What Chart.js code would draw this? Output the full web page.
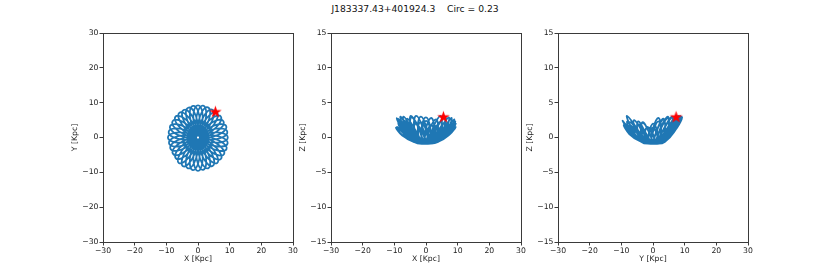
<!DOCTYPE html>
<html>
<head>
<meta charset="utf-8">
<style>
  body { margin:0; background:#fff; width:830px; height:277px; position:relative; overflow:hidden; font-family:"DejaVu Sans", sans-serif; }
  #title { position:absolute; left:0; width:830px; top:3px; text-align:center; font-size:9.2px; color:#111; white-space:pre; }
  canvas { position:absolute; top:23px; }
</style>
</head>
<body>
<div id="title">J183337.43+401924.3    Circ = 0.23</div>
<canvas id="xy" width="242" height="254" style="left:63px"></canvas>
<canvas id="xz" width="242" height="254" style="left:291px"></canvas>
<canvas id="yz" width="242" height="254" style="left:518px"></canvas>

<script src="https://cdn.jsdelivr.net/npm/chart.js/dist/chart.umd.min.js"></script>
<script>
const orbitX = [
  3.57, 7.49, 9.4, 7.49, 3.57, -0.05,
  -3.74, -7.60, -9.16, -7.14, -3.29, 0.16,
  3.80, 7.49, 8.93, 6.58, 2.91, -0.25,
  -3.74, -7.14, -7.97, -5.82, -2.44, 0.34,
  3.57, 6.58, 7.20, 4.89, 1.90, -0.42,
  -3.29, -5.82, -6.11, -3.80, -1.30, 0.49,
  2.91, 4.89, 4.60, 2.60, 0.66, -0.54,
  -2.44, -3.80, -3.21, -1.32, 0, 0.58,
  1.90, 2.60, 1.62, 0, -0.66, -0.60,
  -1.30, -1.32, 0, 1.32, 1.30, 0.60,
  0.66, 0, -1.60, -2.60, -1.90, -0.58,
  0, 1.32, 3.21, 3.80, 2.44, 0.54,
  -0.66, -2.60, -4.55, -4.89, -2.91, -0.49,
  1.30, 3.80, 6.11, 5.82, 3.29, 0.42,
  -1.90, -4.89, -7.12, -6.58, -3.57, -0.34,
  2.44, 5.82, 8.23, 7.14, 3.74, 0.25,
  -2.91, -6.58, -8.84, -7.49, -3.80, -0.16,
  3.29, 7.14, 9.36, 7.60, 3.74, 0.05,
  -3.57, -7.49, -9.5, -7.49, -3.57, 0.05,
  3.74, 7.60, 9.26, 7.14, 3.29, -0.16,
  -3.80, -7.49, -8.74, -6.58, -2.91, 0.25,
  3.74, 7.14, 8.05, 5.82, 2.44, -0.34,
  -3.57, -6.58, -7.05, -4.89, -1.90, 0.42,
  3.29, 5.82, 5.98, 3.80, 1.30, -0.49,
  -2.91, -4.89, -4.75, -2.60, -0.66, 0.54,
  2.44, 3.80, 3.15, 1.32, 0, -0.58,
  -1.90, -2.60, -1.65, 0, 0.66, 0.60,
  1.30, 1.32, 0, -1.32, -1.30, -0.60,
  -0.66, 0, 1.64, 2.60, 1.90, 0.58,
  0, -1.32, -3.11, -3.80, -2.44, -0.54,
  0.66, 2.60, 4.70, 4.89, 2.91, 0.49,
  -1.30, -3.80, -5.92, -5.82, -3.29, -0.42,
  1.90, 4.89, 7.28, 6.58, 3.57, 0.34,
  -2.44, -5.82, -8.05, -7.14, -3.74, -0.25,
  2.91, 6.58, 9.02, 7.49, 3.80, 0.16,
  -3.29, -7.14, -9.26, -7.60, -3.74, -0.05,
  3.57
];
const orbitY = [
  -1.30, -1.32, 0, 1.32, 1.30, 0.60,
  0.66, 0, -1.62, -2.60, -1.90, -0.58,
  0, 1.32, 3.25, 3.80, 2.44, 0.54,
  -0.66, -2.60, -4.60, -4.89, -2.91, -0.49,
  1.30, 3.80, 6.04, 5.82, 3.29, 0.42,
  -1.90, -4.89, -7.28, -6.58, -3.57, -0.34,
  2.44, 5.82, 7.97, 7.14, 3.74, 0.25,
  -2.91, -6.58, -8.84, -7.49, -3.80, -0.16,
  3.29, 7.14, 9.16, 7.60, 3.74, 0.05,
  -3.57, -7.49, -9.6, -7.49, -3.57, 0.05,
  3.74, 7.60, 9.06, 7.14, 3.29, -0.16,
  -3.80, -7.49, -8.84, -6.58, -2.91, 0.25,
  3.74, 7.14, 7.88, 5.82, 2.44, -0.34,
  -3.57, -6.58, -7.28, -4.89, -1.90, 0.42,
  3.29, 5.82, 5.98, 3.80, 1.30, -0.49,
  -2.91, -4.89, -4.75, -2.60, -0.66, 0.54,
  2.44, 3.80, 3.21, 1.32, 0, -0.58,
  -1.90, -2.60, -1.65, 0, 0.66, 0.60,
  1.30, 1.32, 0, -1.32, -1.30, -0.60,
  -0.66, 0, 1.64, 2.60, 1.90, 0.58,
  0, -1.32, -3.18, -3.80, -2.44, -0.54,
  0.66, 2.60, 4.65, 4.89, 2.91, 0.49,
  -1.30, -3.80, -5.92, -5.82, -3.29, -0.42,
  1.90, 4.89, 7.12, 6.58, 3.57, 0.34,
  -2.44, -5.82, -8.23, -7.14, -3.74, -0.25,
  2.91, 6.58, 8.65, 7.49, 3.80, 0.16,
  -3.29, -7.14, -9.36, -7.60, -3.74, -0.05,
  3.57, 7.49, 9.2, 7.49, 3.57, -0.05,
  -3.74, -7.60, -9.26, -7.14, -3.29, 0.16,
  3.80, 7.49, 8.55, 6.58, 2.91, -0.25,
  -3.74, -7.14, -8.14, -5.82, -2.44, 0.34,
  3.57, 6.58, 7.05, 4.89, 1.90, -0.42,
  -3.29, -5.82, -6.11, -3.80, -1.30, 0.49,
  2.91, 4.89, 4.65, 2.60, 0.66, -0.54,
  -2.44, -3.80, -3.28, -1.32, 0, 0.58,
  1.90, 2.60, 1.64, 0, -0.66, -0.60,
  -1.30
];
const orbitZ = [
  -0.6, 0.6, 2.0, 0.9, -0.55, -0.85,
  -0.65, 0.35, 1.5, 0.6, -0.6, -0.9,
  -0.55, 1.1, 2.6, 1.3, -0.45, -0.85,
  -0.6, 0.9, 2.3, 1.1, -0.4, -0.9,
  -0.35, 1.5, 2.9, 1.6, -0.3, -0.85,
  -0.4, 0.7, 1.8, 0.8, -0.45, -0.9,
  -0.4, 1.7, 3.1, 1.8, -0.55, -0.85,
  -0.55, 0.8, 2.0, 0.9, -0.6, -0.9,
  -0.6, 1.5, 2.8, 1.4, -0.6, -0.85,
  -0.6, 1.1, 2.4, 1.2, -0.6, -0.9,
  -0.6, 1.6, 3.0, 1.7, -0.55, -0.85,
  -0.6, 0.5, 1.7, 0.6, -0.5, -0.9,
  -0.6, 1.6, 2.9, 1.5, -0.4, -0.85,
  -0.45, 1.0, 2.2, 1.1, -0.5, -0.9,
  -0.35, 1.7, 3.0, 1.6, -0.55, -0.85,
  -0.5, 0.6, 1.9, 0.8, -0.6, -0.9,
  -0.5, 1.3, 2.7, 1.2, -0.65, -0.85,
  -0.6, 0.35, 1.5, 0.5, -0.65, -0.9,
  -0.65, 0.3, 1.4, 0.35, -0.65, -0.85,
  -0.65, 0.8, 2.3, 1.0, -0.55, -0.9,
  -0.65, 0.8, 2.2, 1.0, -0.5, -0.85,
  -0.6, 1.4, 2.8, 1.5, -0.35, -0.9,
  -0.5, 1.2, 2.5, 1.3, -0.4, -0.85,
  -0.3, 1.6, 3.0, 1.7, -0.45, -0.9,
  -0.4, 1.8, 3.1, 1.7, -0.6, -0.85,
  -0.45, 1.3, 2.6, 1.4, -0.6, -0.9,
  -0.6, 1.0, 2.2, 1.1, -0.6, -0.85,
  -0.6, 1.5, 2.9, 1.6, -0.6, -0.9,
  -0.6, 0.6, 1.8, 0.7, -0.55, -0.85,
  -0.6, 1.8, 3.1, 1.7, -0.4, -0.9,
  -0.55, 1.0, 2.3, 1.0, -0.4, -0.85,
  -0.5, 1.4, 2.7, 1.4, -0.45, -0.9,
  -0.4, 0.5, 1.6, 0.5, -0.55, -0.85,
  -0.45, 1.5, 3.0, 1.6, -0.6, -0.9,
  -0.55, 0.7, 2.1, 0.9, -0.65, -0.85,
  -0.6, 1.4, 2.8, 1.3, -0.65, -0.9,
  -0.6
];
// current position of the star (x, y, z)
const starPos = [5.5, 7.3, 2.9];

const xyRange = [-30, 30, 10];
const zRange = [-15, 15, 5];

const tickFont = { family: 'DejaVu Sans', size: 7.7 };
const textColor = '#222';
const axisColor = '#3a3a3a';

// red filled star marker
const starImg = document.createElement('canvas');
starImg.width = 15; starImg.height = 15;
(function () {
  const c = starImg.getContext('2d');
  c.beginPath();
  for (let i = 0; i < 10; i++) {
    const r = i % 2 === 0 ? 6.6 : 2.6;
    const a = -Math.PI / 2 + i * Math.PI / 5;
    const px = 7.5 + r * Math.cos(a), py = 7.5 + r * Math.sin(a);
    if (i === 0) c.moveTo(px, py); else c.lineTo(px, py);
  }
  c.closePath();
  c.fillStyle = '#ff0000';
  c.fill();
})();

const frame = {
  id: 'frame',
  afterDraw(chart) {
    const { ctx, chartArea: a } = chart;
    ctx.save();
    ctx.strokeStyle = axisColor;
    ctx.lineWidth = 1;
    ctx.strokeRect(Math.round(a.left) + 0.5, Math.round(a.top) + 0.5,
                   Math.round(a.right - a.left), Math.round(a.bottom - a.top));
    ctx.restore();
  }
};

const minus = v => String(v).replace('-', '\u2212');

function panel(id, xs, ys, star, xLabel, yLabel, yr) {
  const pts = xs.map((v, i) => ({ x: v, y: ys[i] }));
  new Chart(document.getElementById(id), {
    type: 'scatter',
    data: {
      datasets: [
        { data: [{ x: star[0], y: star[1] }], pointStyle: starImg, pointRadius: 7, showLine: false },
        { data: pts, showLine: true, borderColor: '#1f77b4', borderWidth: 1.8,
          pointRadius: 0, tension: 0.45, fill: false }
      ]
    },
    options: {
      responsive: false,
      animation: false,
      layout: { padding: { top: 10, right: 12, left: 0, bottom: 0 } },
      plugins: { legend: { display: false }, tooltip: { enabled: false } },
      scales: {
        x: {
          type: 'linear', min: xyRange[0], max: xyRange[1],
          ticks: { stepSize: xyRange[2], font: tickFont, color: textColor, padding: 1,
                   maxRotation: 0, autoSkip: false, callback: minus },
          grid: { drawOnChartArea: false, tickLength: 3.5, color: axisColor },
          border: { color: axisColor, width: 1 },
          title: { display: true, text: xLabel, font: tickFont, color: textColor,
                   padding: { top: 0, bottom: 13 } },
          afterFit: s => { s.height = 35; }
        },
        y: {
          type: 'linear', min: yr[0], max: yr[1],
          ticks: { stepSize: yr[2], font: tickFont, color: textColor, padding: 1,
                   autoSkip: false, callback: minus },
          grid: { drawOnChartArea: false, tickLength: 3.5, color: axisColor },
          border: { color: axisColor, width: 1 },
          title: { display: true, text: yLabel, font: tickFont, color: textColor,
                   padding: { top: 7, bottom: 0 } },
          afterFit: s => { s.width = 40; }
        }
      }
    },
    plugins: [frame]
  });
}

panel('xy', orbitX, orbitY, [starPos[0], starPos[1]], 'X [Kpc]', 'Y [Kpc]', xyRange);
panel('xz', orbitX, orbitZ, [starPos[0], starPos[2]], 'X [Kpc]', 'Z [Kpc]', zRange);
panel('yz', orbitY, orbitZ, [starPos[1], starPos[2]], 'Y [Kpc]', 'Z [Kpc]', zRange);
</script>
</body>
</html>
